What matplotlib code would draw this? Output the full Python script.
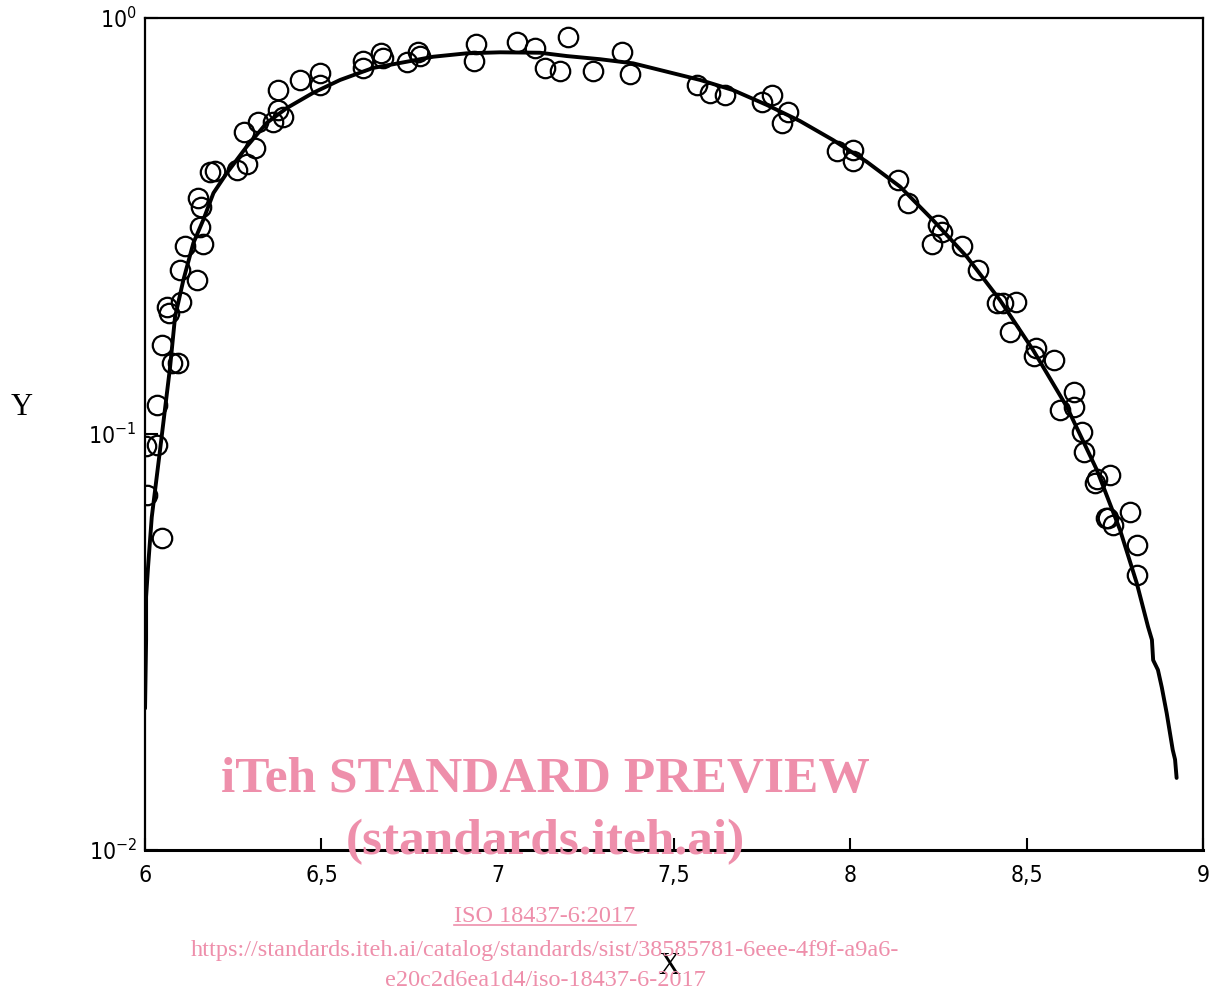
import matplotlib
matplotlib.use('Agg')
import matplotlib.pyplot as plt
from matplotlib.lines import Line2D

# measured points
x_meas = [6.003, 6.006, 6.034, 6.034, 6.048, 6.048, 6.062, 6.068, 6.077, 6.094,
          6.102, 6.099, 6.113, 6.147, 6.150, 6.156, 6.159, 6.164, 6.184, 6.198,
          6.261, 6.289, 6.281, 6.312, 6.320, 6.363, 6.391, 6.377, 6.377, 6.440,
          6.496, 6.496, 6.618, 6.618, 6.669, 6.675, 6.743, 6.774, 6.780, 6.933,
          6.939, 7.055, 7.106, 7.134, 7.177, 7.199, 7.270, 7.353, 7.375, 7.565,
          7.602, 7.645, 7.749, 7.778, 7.806, 7.823, 7.962, 8.008, 8.008, 8.135,
          8.164, 8.249, 8.260, 8.232, 8.317, 8.362, 8.416, 8.433, 8.470, 8.453,
          8.526, 8.521, 8.577, 8.634, 8.594, 8.634, 8.657, 8.663, 8.736, 8.694,
          8.699, 8.793, 8.725, 8.731, 8.745, 8.813, 8.813]
y_meas = [0.0936, 0.0713, 0.0941, 0.1174, 0.0562, 0.1637, 0.2019, 0.1954, 0.1482, 0.1482,
          0.2076, 0.2477, 0.2831, 0.2345, 0.369, 0.3145, 0.3514, 0.2862, 0.4266, 0.4286,
          0.4313, 0.4457, 0.532, 0.487, 0.5623, 0.5623, 0.578, 0.601, 0.671, 0.710,
          0.738, 0.690, 0.788, 0.758, 0.824, 0.801, 0.784, 0.829, 0.811, 0.788,
          0.866, 0.876, 0.847, 0.758, 0.746, 0.900, 0.746, 0.829, 0.733, 0.690,
          0.660, 0.653, 0.628, 0.653, 0.560, 0.594, 0.479, 0.482, 0.453, 0.408,
          0.359, 0.318, 0.306, 0.286, 0.283, 0.248, 0.206, 0.206, 0.208, 0.176,
          0.161, 0.154, 0.151, 0.126, 0.114, 0.116, 0.101, 0.0905, 0.0797, 0.0762,
          0.078, 0.0650, 0.0628, 0.0628, 0.0604, 0.0541, 0.0458]

# fitted curve
x_fit = [6.000, 6.003, 6.003, 6.0085, 6.019, 6.0425, 6.071, 6.085, 6.1086, 6.137,
         6.165, 6.194, 6.232, 6.288, 6.345, 6.402, 6.476, 6.553, 6.6465, 6.742,
         6.817, 6.912, 7.007, 7.120, 7.196, 7.290, 7.384, 7.479, 7.574, 7.667,
         7.763, 7.857, 7.951, 8.046, 8.141, 8.234, 8.330, 8.424, 8.518, 8.6135,
         8.699, 8.7646, 8.812, 8.844, 8.855, 8.8585, 8.872, 8.883, 8.897, 8.914,
         8.9206, 8.925]
y_fit = [0.0219, 0.0320, 0.0406, 0.0479, 0.0631, 0.0915, 0.1449, 0.191, 0.2344, 0.2877,
         0.3269, 0.3796, 0.4240, 0.4904, 0.5595, 0.6075, 0.6604, 0.7096, 0.7584, 0.785,
         0.807, 0.8224, 0.827, 0.825, 0.810, 0.796, 0.778, 0.743, 0.7096, 0.671,
         0.618, 0.5654, 0.5088, 0.4514, 0.393, 0.3269, 0.2668, 0.2099, 0.1592, 0.1163,
         0.0819, 0.0588, 0.0438, 0.0344, 0.0320, 0.0286, 0.0271, 0.0246, 0.0213, 0.0174,
         0.0165, 0.0149]

x_ticks = [6, 6.5, 7, 7.5, 8, 8.5, 9]
x_ticklabels = ['6', '6,5', '7', '7,5', '8', '8,5', '9']
y_ticks = [0.01, 0.1, 1]
y_ticklabels = [r'$\mathregular{10^{-2}}$', r'$\mathregular{10^{-1}}$', r'$\mathregular{10^{0}}$']

plt.rcParams['font.family'] = ['DejaVu Sans']
plt.rcParams['font.stretch'] = 'condensed'

fig = plt.figure(figsize=(12.22, 9.94), dpi=100)
ax = fig.add_axes([0.1187, 0.1449, 0.8658, 0.837])

ax.plot(x_fit, y_fit, color='black', lw=2.8, zorder=2,
        solid_joinstyle='round', solid_capstyle='round')
ax.plot(x_meas, y_meas, 'o', ms=14, mfc='none', mec='black', mew=1.6, zorder=3)

ax.set_yscale('log')
ax.set_xlim(6, 9)
ax.set_ylim(0.01, 1)
ax.set_xticks(x_ticks)
ax.set_xticklabels(x_ticklabels)
ax.set_yticks(y_ticks)
ax.set_yticklabels(y_ticklabels)
ax.minorticks_off()
ax.tick_params(direction='in', length=9, width=1.5, labelsize=16.5, pad=10)
ax.tick_params(axis='y', pad=6)
for s in ax.spines.values():
    s.set_linewidth(1.6)
ax.spines['bottom'].set_linewidth(2.2)

fig.text(0.018, 0.59, 'Y', fontsize=22, family='Liberation Serif', ha='center', va='center')
fig.text(0.548, 0.028, 'X', fontsize=22, family='Liberation Serif', ha='center', va='center')

# watermark
pink = '#ee8fab'
fig.text(0.446, 0.215, 'iTeh STANDARD PREVIEW', fontsize=37, weight='bold',
         family='Liberation Serif', color=pink, ha='center', va='center')
fig.text(0.446, 0.153, '(standards.iteh.ai)', fontsize=37, weight='bold',
         family='Liberation Serif', color=pink, ha='center', va='center')
iso = fig.text(0.446, 0.078, 'ISO 18437-6:2017', fontsize=17.5,
               family='Liberation Serif', color=pink, ha='center', va='center')
fig.text(0.446, 0.044, 'https://standards.iteh.ai/catalog/standards/sist/38585781-6eee-4f9f-a9a6-',
         fontsize=17.5, family='Liberation Serif', color=pink, ha='center', va='center')
fig.text(0.446, 0.014, 'e20c2d6ea1d4/iso-18437-6-2017', fontsize=17.5,
         family='Liberation Serif', color=pink, ha='center', va='center')

fig.canvas.draw()
bb = iso.get_window_extent().transformed(fig.transFigure.inverted())
fig.add_artist(Line2D([bb.x0, bb.x1], [bb.y0 + 0.002, bb.y0 + 0.002],
                      color=pink, lw=1.2, transform=fig.transFigure))

fig.savefig('out.png', dpi=100)
